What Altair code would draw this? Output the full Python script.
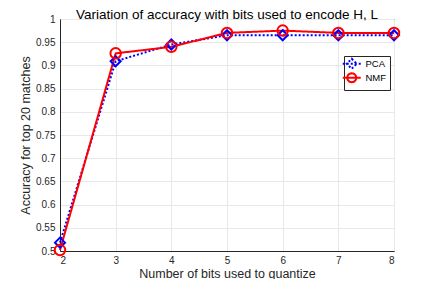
import math
import altair as alt
import pandas as pd

bits = [2, 3, 4, 5, 6, 7, 8]
pca = [0.518, 0.909, 0.945, 0.965, 0.965, 0.965, 0.965]
nmf = [0.502, 0.926, 0.940, 0.970, 0.975, 0.970, 0.970]
methods = ["PCA", "NMF"]
x_ticks = [2, 3, 4, 5, 6, 7, 8]
y_ticks = [0.5, 0.55, 0.6, 0.65, 0.7, 0.75, 0.8, 0.85, 0.9, 0.95, 1.0]

rows = []
for m, vals in zip(methods, [pca, nmf]):
    for b, v in zip(bits, vals):
        rows.append({"method": m, "bits": b, "acc": v})
df = pd.DataFrame(rows)

FONT = "Liberation Sans"
AX = "#262626"

# legend glyphs: a short line with the marker in its middle (unit: symbol half-size)
K = 1.6
LEG_PCA = f"M{-1.8*K},0H{1.8*K}M0,{-K}L{K},0L0,{K}L{-K},0Z"
_circ = [(0.9 * K * math.cos(2 * math.pi * k / 20), 0.9 * K * math.sin(2 * math.pi * k / 20))
         for k in range(20)]
LEG_NMF = f"M{-1.8*K},0H{1.8*K}M" + "L".join(f"{a:.3f},{b:.3f}" for a, b in _circ) + "Z"

x = alt.X("bits:Q", scale=alt.Scale(domain=[2, 8], nice=False),
          axis=alt.Axis(values=x_ticks, title="Number of bits used to quantize",
                        format="d", grid=True, ticks=False, labelPadding=4,
                        titlePadding=2))
y = alt.Y("acc:Q", scale=alt.Scale(domain=[0.5, 1.0], nice=False, zero=False),
          axis=alt.Axis(values=y_ticks, title="Accuracy for top 20 matches",
                        format="~g", grid=True, ticks=False, labelPadding=5,
                        titlePadding=3))
legend = alt.Legend(
    title=None, orient="none", legendX=284, legendY=37,
    fillColor="white", strokeColor=AX, padding=3,
    labelFontSize=9.5, labelFont=FONT, labelColor="#000",
    symbolStrokeWidth=2, symbolSize=39, rowPadding=-8, labelOffset=9,
    symbolFillColor="transparent", symbolOpacity=1,
)
color = alt.Color("method:N", scale=alt.Scale(domain=methods, range=["#0000ff", "#ff0000"]),
                  legend=legend)
dash = alt.StrokeDash("method:N", scale=alt.Scale(domain=methods, range=[[2, 2], [1, 0]]),
                      legend=legend)
shape = alt.Shape("method:N", scale=alt.Scale(domain=methods, range=[LEG_PCA, LEG_NMF]),
                  legend=legend)

lines = alt.Chart(df).mark_line(strokeWidth=2).encode(x=x, y=y, color=color, strokeDash=dash)
legend_layer = alt.Chart(df).mark_point(filled=False, opacity=0, strokeWidth=2).encode(
    x=x, y=y, color=color, strokeDash=dash, shape=shape)
pts_pca = alt.Chart(df).transform_filter(alt.datum.method == "PCA").mark_point(
    filled=False, strokeWidth=2, size=100, shape="diamond", opacity=1).encode(
    x=x, y=y, color=color)
pts_nmf = alt.Chart(df).transform_filter(alt.datum.method == "NMF").mark_point(
    filled=False, strokeWidth=2, size=110, shape="circle", opacity=1).encode(
    x=x, y=y, color=color)

chart = alt.layer(lines, legend_layer, pts_pca, pts_nmf).properties(
    width=334, height=232,
    title=alt.Title("Variation of accuracy with bits used to encode H, L",
                    fontSize=13.5, font=FONT, fontWeight="normal", color="#000",
                    offset=4, dy=11),
    autosize=alt.AutoSizeParams(type="none"),
    padding={"left": 52, "top": 11, "right": 30, "bottom": 28},
).configure_axis(
    labelFont=FONT, titleFont=FONT, labelFontSize=10, titleFontSize=12.5,
    labelColor=AX, titleColor=AX, domainColor=AX, gridColor="#e8e8e8",
    titleFontWeight="normal",
).configure_view(stroke=AX, strokeWidth=1)

chart.save("out.html", embed_options={"renderer": "svg", "actions": False})
